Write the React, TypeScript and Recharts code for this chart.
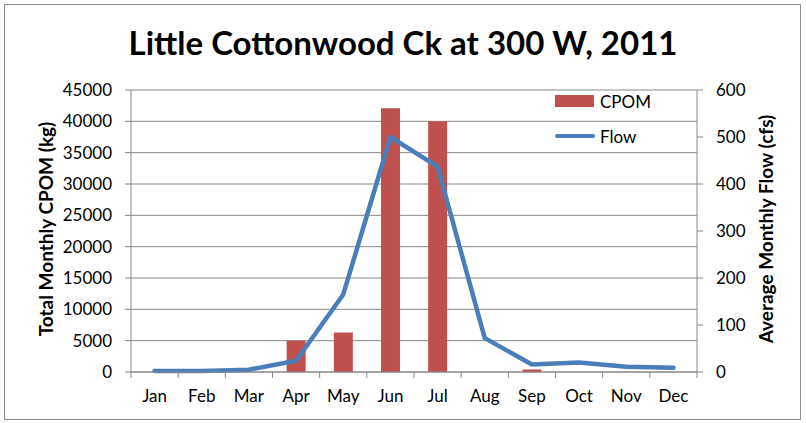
import { ComposedChart, Bar, Line, XAxis, YAxis, CartesianGrid } from "recharts";

const months = ["Jan", "Feb", "Mar", "Apr", "May", "Jun", "Jul", "Aug", "Sep", "Oct", "Nov", "Dec"];
const cpom = [0, 0, 0, 5000, 6300, 42100, 40000, 0, 400, 0, 0, 0];
const flow = [2, 2, 5, 24, 165, 500, 437, 72, 16, 20, 11, 9];
const leftTicks = [0, 5000, 10000, 15000, 20000, 25000, 30000, 35000, 40000, 45000];
const rightTicks = [0, 100, 200, 300, 400, 500, 600];

const data = months.map((m, i) => ({ month: m, CPOM: cpom[i], Flow: flow[i] }));

const W = 806;
const H = 423;
const LEFT_W = 131;
const RIGHT_W = 109;
const BAND = (W - LEFT_W - RIGHT_W) / months.length;
const FONT = "Lato, 'Liberation Sans', sans-serif";
const GRID = "#888888";

const MonthTick = ({ x, y, payload, index }: any) => (
  <g>
    <line x1={x - BAND / 2} x2={x - BAND / 2} y1={y} y2={y + 6} stroke={GRID} />
    {index === months.length - 1 && (
      <line x1={x + BAND / 2} x2={x + BAND / 2} y1={y} y2={y + 6} stroke={GRID} />
    )}
    <text x={x} y={y + 30} textAnchor="middle" fontSize={17} fontFamily={FONT} fill="#000">
      {payload.value}
    </text>
  </g>
);

const AxisTitle = ({ cx, text }: any) => (
  <text
    x={cx}
    y={229}
    transform={`rotate(-90 ${cx} 229)`}
    textAnchor="middle"
    dominantBaseline="central"
    fontSize={19}
    fontWeight={700}
    fontFamily={FONT}
    fill="#000"
  >
    {text}
  </text>
);

// legend drawn by hand so it doesn't eat into the plot area
const LegendBox = () => (
  <div
    style={{
      position: "absolute",
      left: 555,
      top: 93,
      fontFamily: FONT,
      fontSize: 17,
      color: "#000",
    }}
  >
    <div style={{ display: "flex", alignItems: "center", height: 16 }}>
      <span style={{ width: 39, height: 12, background: "#c0504d", marginRight: 6 }} />
      CPOM
    </div>
    <div style={{ display: "flex", alignItems: "center", height: 16, marginTop: 19 }}>
      <span style={{ width: 40, height: 4, borderRadius: 2, background: "#4a7ebb", marginRight: 5 }} />
      Flow
    </div>
  </div>
);

export default function App() {
  return (
    <div style={{ position: "absolute", left: 0, top: 0, width: W, height: H, background: "#fff" }}>
      <div
        style={{
          position: "absolute",
          left: 4,
          top: 4,
          width: 795,
          height: 414,
          border: "1px solid #8c8c8c",
        }}
      />
      <div
        style={{
          position: "absolute",
          left: 0,
          top: 22,
          width: W,
          textAlign: "center",
          fontFamily: FONT,
          fontWeight: 700,
          fontSize: 33,
          color: "#000",
        }}
      >
        Little Cottonwood Ck at 300 W, 2011
      </div>
      <div style={{ position: "absolute", left: 0, top: 0 }}>
        <ComposedChart
          width={W}
          height={H}
          data={data}
          margin={{ top: 90, right: 0, bottom: 0, left: 0 }}
          barCategoryGap="30%"
        >
          <CartesianGrid yAxisId="left" vertical={false} stroke={GRID} strokeWidth={1} />
          <XAxis
            dataKey="month"
            height={51}
            tickLine={false}
            tickSize={0}
            tickMargin={0}
            interval={0}
            axisLine={{ stroke: GRID }}
            tick={<MonthTick />}
          />
          <YAxis
            yAxisId="left"
            width={LEFT_W}
            domain={[0, 45000]}
            ticks={leftTicks}
            interval={0}
            tickSize={6}
            tickMargin={13}
            axisLine={{ stroke: GRID }}
            tickLine={{ stroke: GRID }}
            tick={{ fontSize: 17, fontFamily: FONT, fill: "#000" }}
            label={<AxisTitle cx={45} text="Total Monthly CPOM (kg)" />}
          />
          <YAxis
            yAxisId="right"
            orientation="right"
            width={RIGHT_W}
            domain={[0, 600]}
            ticks={rightTicks}
            interval={0}
            tickSize={6}
            tickMargin={13}
            axisLine={{ stroke: GRID }}
            tickLine={{ stroke: GRID }}
            tick={{ fontSize: 17, fontFamily: FONT, fill: "#000" }}
            label={<AxisTitle cx={765} text="Average Monthly Flow (cfs)" />}
          />
          <Bar yAxisId="left" dataKey="CPOM" fill="#c0504d" isAnimationActive={false} />
          <Line
            yAxisId="right"
            dataKey="Flow"
            type="linear"
            stroke="#4a7ebb"
            strokeWidth={4.5}
            strokeLinecap="round"
            strokeLinejoin="round"
            dot={false}
            activeDot={false}
            isAnimationActive={false}
          />
        </ComposedChart>
      </div>
      <LegendBox />
    </div>
  );
}
